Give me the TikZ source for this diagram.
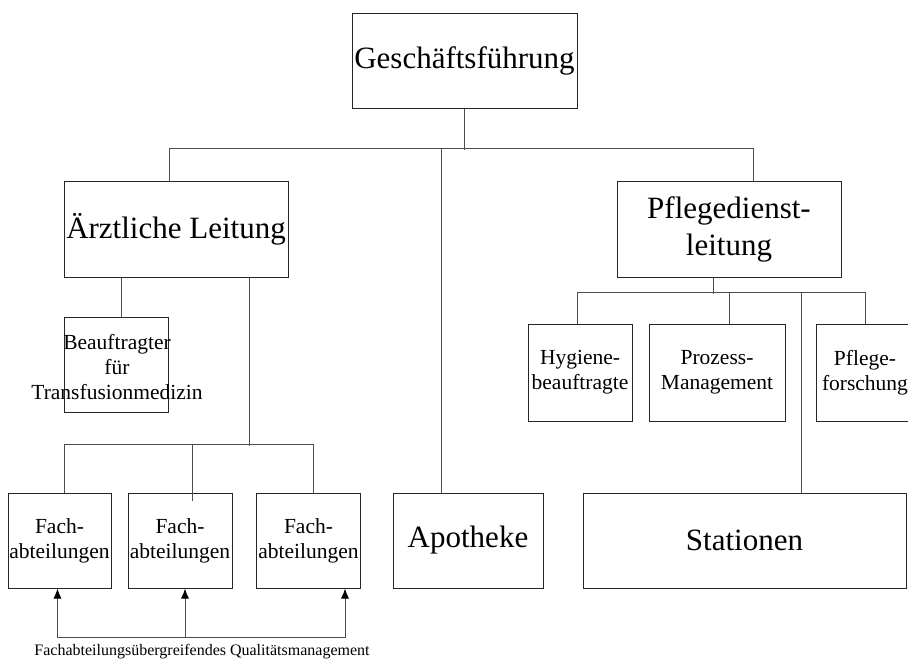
\documentclass[tikz,border=0pt]{standalone}
\usepackage{fontspec}
\setmainfont{Liberation Serif}
\usetikzlibrary{arrows.meta}

\begin{document}
\begin{tikzpicture}[x=1pt, y=-1pt,
		orgbox/.style={draw=black!85, line width=1pt, inner sep=0pt, align=center},
		bigtxt/.style={font=\fontsize{31}{37}\selectfont},
		midtxt/.style={font=\fontsize{21.5}{25}\selectfont},
		conn/.style={draw=black!70, line width=1pt},
		qmarrow/.style={conn, {Latex[length=10pt,width=8pt,black]}-}]
			%%%%% START %%%%%
			\useasboundingbox (0,0) rectangle (908,659);
			
			\node[orgbox, bigtxt, minimum width=225, minimum height=95] (gf) at (464.5,60.5) {Geschäftsführung};
			
			\node[orgbox, bigtxt, minimum width=224, minimum height=96] (aerztl) at (176,229) {Ärztliche Leitung};
			\node[orgbox, bigtxt, minimum width=224, minimum height=96] (pflege) at (729,229) {Pflegedienst-\\leitung};
			
			\node[orgbox, minimum width=104, minimum height=95] (beauf) at (116,364.5) {};
			\node[midtxt, align=center, inner sep=0pt] (beauftxt) at (117,367) {Beauftragter\\für\\Transfusionmedizin};
			
			\node[orgbox, midtxt, minimum width=103, minimum height=95] (fach1) at (59.5,540.5) {Fach-\\abteilungen};
			\node[orgbox, midtxt, minimum width=104, minimum height=95] (fach2) at (180,540.5) {Fach-\\abteilungen};
			\node[orgbox, midtxt, minimum width=104, minimum height=95] (fach3) at (308.5,540.5) {Fach-\\abteilungen};
			
			\node[orgbox, bigtxt, minimum width=150, minimum height=95] (apo) at (468,540.5) {Apotheke};
			\node[orgbox, bigtxt, minimum width=323, minimum height=95] (stat) at (744.5,540.5) {Stationen};
			
			\node[orgbox, midtxt, minimum width=104, minimum height=97] (hyg) at (580,372.5) {Hygiene-\\beauftragte};
			\node[orgbox, midtxt, minimum width=136, minimum height=97] (proz) at (717,372.5) {Prozess-\\Management};
			\node[orgbox, midtxt, minimum width=98, minimum height=97] (pfor) at (865,372.5) {Pflege-\\forschung};
			
			\node[font=\fontsize{16}{19}\selectfont, inner sep=0pt] (qm) at (202,652) {Fachabteilungsübergreifendes Qualitätsmanagement};
			
			% top level
			\draw[conn] (gf.south) -- ++(0,41);
			\draw[conn] ([xshift=-7pt]aerztl.north) -- ++(0,-32) -| ([xshift=24pt]pflege.north);
			\draw[conn] ([xshift=-27pt]apo.north) -- ++(0,-344);
			
			% aerztliche leitung
			\draw[conn] ([xshift=-55pt]aerztl.south) -- ([xshift=5pt]beauf.north);
			\draw[conn] ([xshift=73pt]aerztl.south) -- ++(0,168);
			\draw[conn] ([xshift=4.5pt]fach1.north) -- ++(0,-48) -| ([xshift=4.5pt]fach3.north);
			\draw[conn] ([xshift=12pt,yshift=-8pt]fach2.north) -- ++(0,-56);
			
			% pflegedienstleitung
			\draw[conn] ([xshift=-16pt]pflege.south) -- ++(0,16);
			\draw[conn] ([xshift=-3pt]hyg.north) -- ++(0,-31) -| (pfor.north);
			\draw[conn] ([xshift=12pt]proz.north) -- ++(0,-31);
			\draw[conn] ([xshift=56.5pt]stat.north) -- ++(0,-200);
			
			% qualitaetsmanagement
			\draw[qmarrow] ([xshift=-2pt]fach1.south) -- ++(0,49) coordinate (qmleft);
			\draw[qmarrow] ([xshift=5pt]fach2.south) -- ++(0,49);
			\draw[qmarrow] ([xshift=36.5pt]fach3.south) -- ++(0,49) coordinate (qmright);
			\draw[conn] (qmleft) -- (qmright);
			
			%%%%% END %%%%%
\end{tikzpicture}
\end{document}
